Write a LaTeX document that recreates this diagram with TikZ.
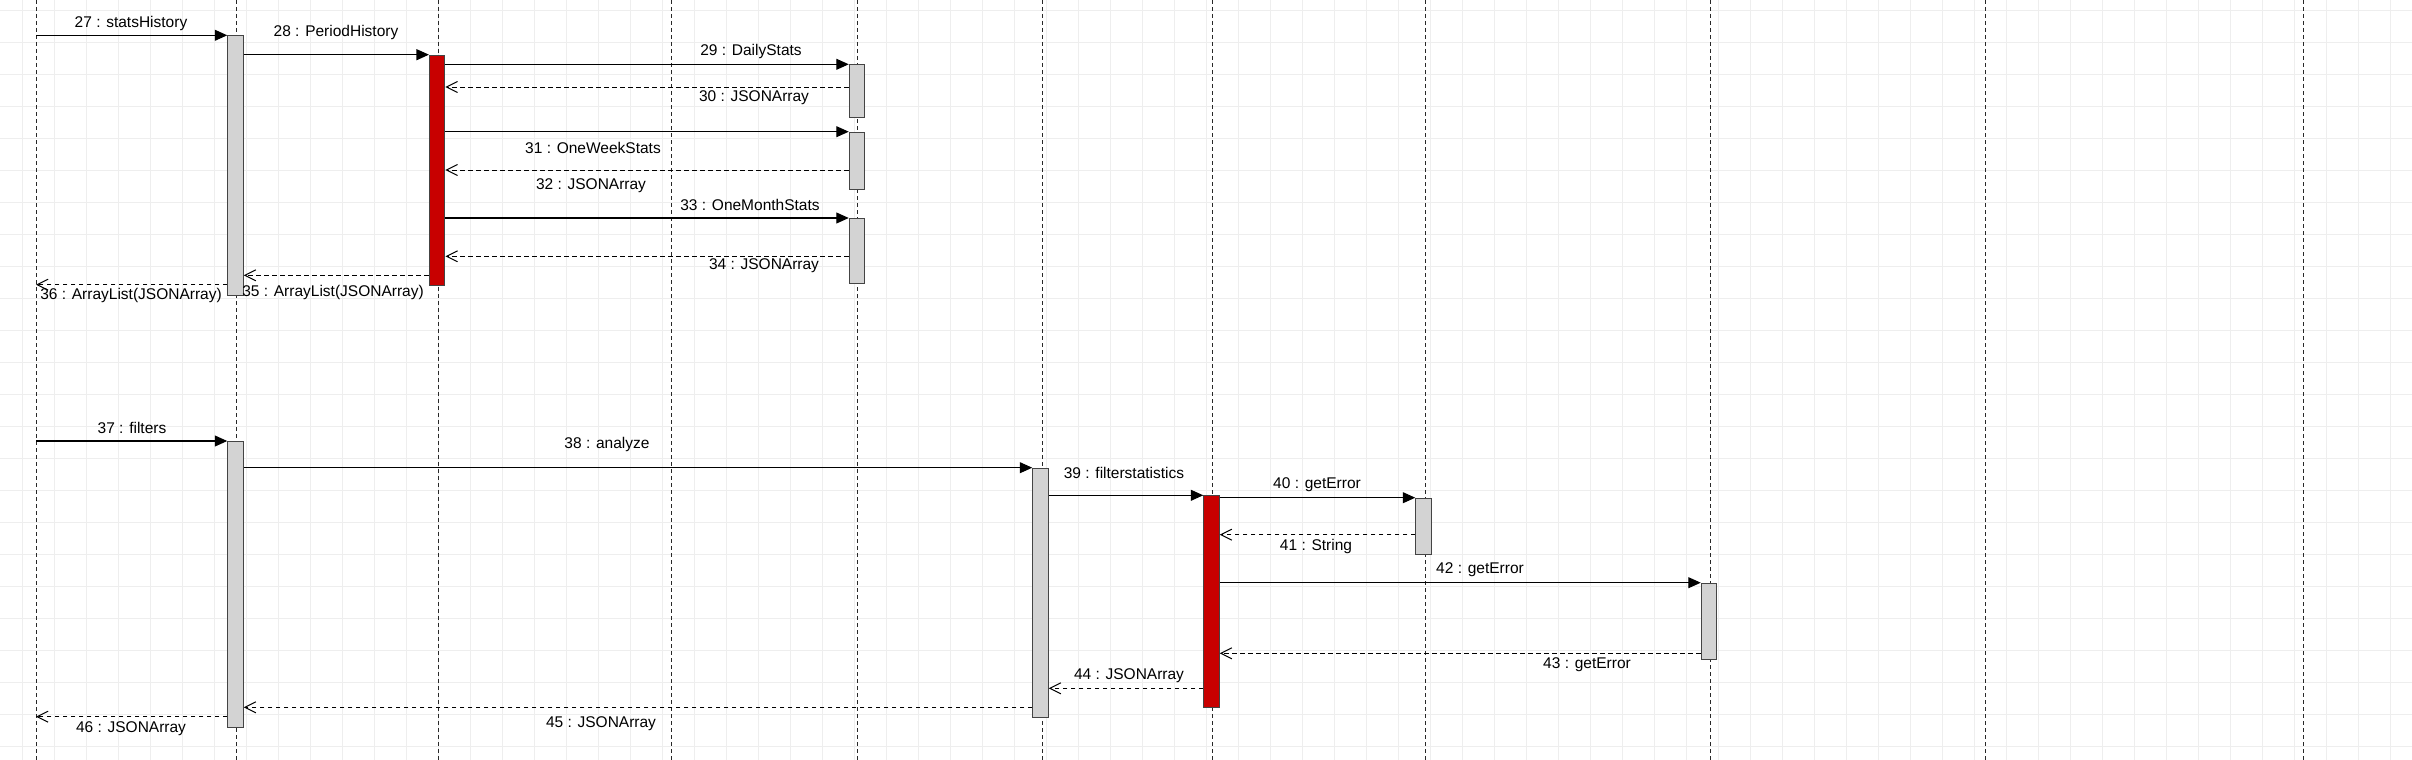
\documentclass[tikz,border=0pt]{standalone}
\usepackage{fontspec}
\setmainfont{Liberation Sans}
\usetikzlibrary{arrows.meta}
\definecolor{gridc}{RGB}{238,238,238}
\definecolor{barfill}{RGB}{211,211,211}
\definecolor{barline}{RGB}{68,68,68}
\definecolor{redfill}{RGB}{200,0,0}
\definecolor{lifec}{RGB}{40,40,40}
\tikzset{
  gridline/.style={draw=gridc, line width=1pt},
  lifeline/.style={draw=lifec, line width=1pt, dash pattern=on 4pt off 3pt},
  bar/.style={draw=barline, fill=barfill, line width=1pt, minimum width=15.5pt, inner sep=0pt, anchor=north},
  redbar/.style={bar, fill=redfill},
  call/.style={draw=black, line width=1.1pt, -{Triangle[length=12.5pt,width=11pt]}},
  ret/.style={draw=black, line width=1pt, dash pattern=on 4.5pt off 3.5pt, -{Straight Barb[length=11pt,width=11pt,line width=1pt]}},
  lbl/.style={font=\fontsize{15.5}{18}\selectfont, inner sep=0pt, text=black}
}
\begin{document}
\begin{tikzpicture}[x=1pt,y=-1pt]
\useasboundingbox (0,0) rectangle (2412,760);
\fill[white] (0,0) rectangle (2412,760);
% grid
\foreach \k in {0,...,74} { \draw[gridline] (22.3+32*\k,0) -- (22.3+32*\k,760); }
\foreach \k in {0,...,23} { \draw[gridline] (0,10.3+32*\k) -- (2412,10.3+32*\k); }
% lifelines
\foreach \x [count=\i] in {36,236,438,671,857,1042,1212,1425,1710,1985,2303} {
  \coordinate (lt\i) at (\x,0);
  \coordinate (lb\i) at (\x,760);
  \draw[lifeline] (lt\i) -- (lb\i);
}
% activation bars, upper part
\node[bar, minimum height=259.4pt] (b2a) at (235.5,35.3) {};
\node[redbar, minimum height=230.6pt] (r1) at (437.2,54.7) {};
\node[bar, minimum height=52.7pt] (b29) at (857,64.3) {};
\node[bar, minimum height=57.3pt] (b31) at (857,131.7) {};
\node[bar, minimum height=64.7pt] (b33) at (857,218) {};
% activation bars, lower part
\node[bar, minimum height=285.7pt] (b2b) at (235.5,441) {};
\node[bar, minimum height=249pt] (b38) at (1040.5,467.7) {};
\node[redbar, minimum height=212pt] (r2) at (1211.5,495.3) {};
\node[bar, minimum height=56pt] (b40) at (1423.5,497.7) {};
\node[bar, minimum height=76.6pt] (b42) at (1709,582.7) {};
% messages, upper part
\draw[call] (lt1 |- b2a.north) -- (b2a.north west);
\draw[call] (b2a.east |- r1.north) -- (r1.north west);
\draw[call] (r1.east |- b29.north) -- (b29.north west);
\draw[ret] (b29.west |- 0,87) -- (r1.east |- 0,87);
\draw[call] (r1.east |- b31.north) -- (b31.north west);
\draw[ret] (b31.west |- 0,170) -- (r1.east |- 0,170);
\draw[call] (r1.east |- b33.north) -- (b33.north west);
\draw[ret] (b33.west |- 0,256.3) -- (r1.east |- 0,256.3);
\draw[ret] (r1.west |- 0,275.3) -- (b2a.east |- 0,275.3);
\draw[ret] (b2a.west |- 0,284.7) -- (lt1 |- 0,284.7);
% messages, lower part
\draw[call] (lt1 |- b2b.north) -- (b2b.north west);
\draw[call] (b2b.east |- b38.north) -- (b38.north west);
\draw[call] (b38.east |- r2.north) -- (r2.north west);
\draw[call] (r2.east |- b40.north) -- (b40.north west);
\draw[ret] (b40.west |- 0,534.7) -- (r2.east |- 0,534.7);
\draw[call] (r2.east |- b42.north) -- (b42.north west);
\draw[ret] (b42.west |- 0,653.3) -- (r2.east |- 0,653.3);
\draw[ret] (r2.west |- 0,688.3) -- (b38.east |- 0,688.3);
\draw[ret] (b38.west |- 0,707.3) -- (b2b.east |- 0,707.3);
\draw[ret] (b2b.west |- 0,716.7) -- (lt1 |- 0,716.7);
% labels
\node[lbl] (t27) at (131,23.3) {27 : statsHistory};
\node[lbl] (t28) at (336,32) {28 : PeriodHistory};
\node[lbl] (t29) at (751,51.7) {29 : DailyStats};
\node[lbl] (t30) at (754,98) {30 : JSONArray};
\node[lbl] (t31) at (593,147.7) {31 : OneWeekStats};
\node[lbl] (t32) at (591,185.7) {32 : JSONArray};
\node[lbl] (t33) at (750,204.7) {33 : OneMonthStats};
\node[lbl] (t34) at (764,266) {34 : JSONArray};
\node[lbl] (t35) at (333,292) {35 : ArrayList(JSONArray)};
\node[lbl] (t36) at (131,295.3) {36 : ArrayList(JSONArray)};
\node[lbl] (t37) at (132,428) {37 : filters};
\node[lbl] (t38) at (607,444.3) {38 : analyze};
\node[lbl] (t39) at (1124,472.7) {39 : filterstatistics};
\node[lbl] (t40) at (1317,485) {40 : getError};
\node[lbl] (t41) at (1316,546) {41 : String};
\node[lbl] (t42) at (1480,570) {42 : getError};
\node[lbl] (t43) at (1587,665) {43 : getError};
\node[lbl] (t44) at (1129,676) {44 : JSONArray};
\node[lbl] (t45) at (601,724) {45 : JSONArray};
\node[lbl] (t46) at (131,728.3) {46 : JSONArray};
\end{tikzpicture}
\end{document}
